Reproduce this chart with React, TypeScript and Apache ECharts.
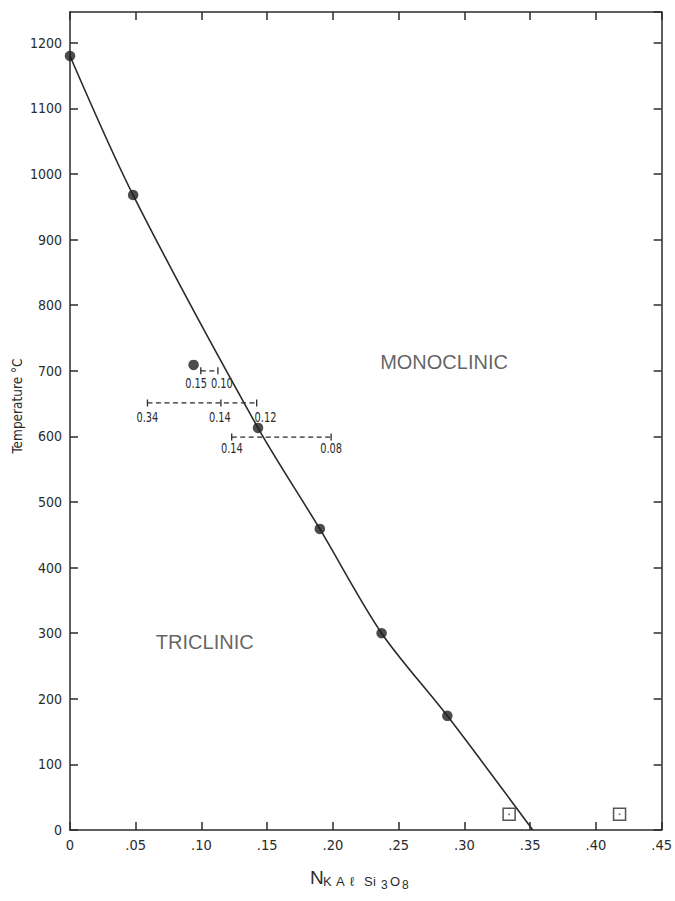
import React, { useEffect, useRef } from "react";
import * as echarts from "echarts";

// Measured transition temperatures (mole fraction KAlSi3O8, °C)
const measuredPoints: [number, number][] = [
  [0.0, 1180],
  [0.048, 968],
  [0.094, 709],
  [0.143, 613],
  [0.19, 459],
  [0.237, 300],
  [0.287, 174],
];

// Hand-drawn boundary curve between the two fields
const boundaryCurve: [number, number][] = [
  [0.0, 1180],
  [0.048, 968],
  [0.143, 613],
  [0.19, 459],
  [0.237, 300],
  [0.287, 174],
  [0.352, 0],
];

// Open-square observations at room temperature
const squarePoints: [number, number][] = [
  [0.334, 24],
  [0.418, 24],
];

// Composition ranges: [left x, temperature, right x, middle x or null]
const rangeBars: (number | null)[][] = [
  [0.0995, 700, 0.1125, null],
  [0.0589, 651, 0.142, 0.1148],
  [0.123, 599, 0.1986, null],
];

// Values written under the range bars
const rangeLabelX = [0.0959, 0.1155, 0.0589, 0.114, 0.1487, 0.1231, 0.1986];
const rangeLabelY = [682, 682, 630, 630, 630, 583, 583];
const rangeLabelText = ["0.15", "0.10", "0.34", "0.14", "0.12", "0.14", "0.08"];

// Phase field names
const fieldNames = ["MONOCLINIC", "TRICLINIC"];
const fieldX = [0.2845, 0.1025];
const fieldY = [713, 287];

const xTicks = { min: 0, max: 0.45, step: 0.05 };
const yTicks = { min: 0, max: 1247, step: 100 };

const INK = "#2b2b2b";
const NARROW = "'Liberation Sans Narrow', 'DejaVu Sans Condensed', 'Roboto', sans-serif";
const SANS = "'Liberation Sans', Arial, sans-serif";

// Axis title glyphs: [text, x offset, y offset, font size]
const titleGlyphs: [string, number, number, number][] = [
  ["N", 0, 0, 19],
  ["K", 13, 7, 13],
  ["A", 26, 7, 13],
  ["ℓ", 40, 7, 13],
  ["S", 54, 7, 13],
  ["i", 63, 7, 13],
  ["3", 71, 11, 12],
  ["O", 80, 7, 13],
  ["8", 92, 11, 12],
];

export default function App() {
  const ref = useRef<HTMLDivElement>(null);

  useEffect(() => {
    if (!ref.current) return;
    const chart = echarts.init(ref.current, undefined, { renderer: "svg" });

    const axisLine = { show: true, onZero: false, lineStyle: { color: INK, width: 1.5 } };
    const tick = { show: true, inside: true, length: 8, lineStyle: { color: INK, width: 1.5 } };

    const cap = (p: number[]) => ({
      type: "line",
      shape: { x1: p[0], y1: p[1] - 3.5, x2: p[0], y2: p[1] + 3.5 },
      style: { stroke: INK, lineWidth: 1.3 },
    });

    chart.setOption({
      animation: false,
      backgroundColor: "#ffffff",
      grid: { left: 70, right: 9, top: 12, bottom: 71 },
      xAxis: [
        {
          type: "value",
          min: xTicks.min,
          max: xTicks.max,
          interval: xTicks.step,
          axisLine,
          axisTick: tick,
          splitLine: { show: false },
          axisLabel: {
            margin: 7,
            color: INK,
            fontSize: 14.5,
            fontFamily: NARROW,
            formatter: (v: number) => (v === 0 ? "0" : v.toFixed(2).replace(/^0/, "")),
          },
        },
        {
          type: "value",
          position: "top",
          min: xTicks.min,
          max: xTicks.max,
          interval: xTicks.step,
          axisLine,
          axisTick: tick,
          axisLabel: { show: false },
          splitLine: { show: false },
        },
      ],
      yAxis: [
        {
          type: "value",
          min: yTicks.min,
          max: yTicks.max,
          interval: yTicks.step,
          axisLine,
          axisTick: tick,
          splitLine: { show: false },
          axisLabel: {
            margin: 8,
            color: INK,
            fontSize: 14,
            fontFamily: NARROW,
            showMaxLabel: false,
            formatter: (v: number) => (Math.round(v) % 100 === 0 ? String(Math.round(v)) : ""),
          },
        },
        {
          type: "value",
          position: "right",
          min: yTicks.min,
          max: yTicks.max,
          interval: yTicks.step,
          axisLine,
          axisTick: tick,
          axisLabel: { show: false },
          splitLine: { show: false },
        },
      ],
      series: [
        {
          type: "line",
          data: boundaryCurve,
          smooth: 0.3,
          symbol: "none",
          lineStyle: { color: INK, width: 1.6 },
          silent: true,
          z: 2,
        },
        {
          type: "scatter",
          data: measuredPoints,
          symbol: "circle",
          symbolSize: 10.5,
          itemStyle: { color: "#1f1f1f" },
          z: 4,
        },
        {
          type: "scatter",
          data: squarePoints,
          symbol: "rect",
          symbolSize: 12,
          itemStyle: { color: "#ffffff", borderColor: INK, borderWidth: 1.5 },
          z: 4,
        },
        {
          type: "scatter",
          data: squarePoints,
          symbol: "circle",
          symbolSize: 1.8,
          itemStyle: { color: "#555" },
          z: 5,
        },
        {
          type: "custom",
          data: rangeBars,
          encode: { x: [0, 2], y: 1 },
          renderItem: (_params: any, api: any) => {
            const y = api.value(1);
            const p0 = api.coord([api.value(0), y]);
            const p1 = api.coord([api.value(2), y]);
            const children: any[] = [
              {
                type: "line",
                shape: { x1: p0[0], y1: p0[1], x2: p1[0], y2: p1[1] },
                style: { stroke: INK, lineWidth: 1.3, lineDash: [5, 3.5] },
              },
              cap(p0),
              cap(p1),
            ];
            const mid = api.value(3);
            if (typeof mid === "number" && isFinite(mid)) children.push(cap(api.coord([mid, y])));
            return { type: "group", children };
          },
          z: 3,
        },
        {
          // condensed hand-lettered values under the range bars
          type: "custom",
          data: rangeLabelX.map((x, i) => [x, rangeLabelY[i]]),
          renderItem: (params: any, api: any) => {
            const p = api.coord([api.value(0), api.value(1)]);
            return {
              type: "text",
              x: p[0],
              y: p[1],
              scaleX: 0.78,
              style: {
                text: rangeLabelText[params.dataIndex],
                fill: INK,
                font: `14px ${NARROW}`,
                align: "center",
                verticalAlign: "middle",
              },
            };
          },
          silent: true,
          z: 6,
        },
        {
          type: "scatter",
          symbolSize: 0,
          data: fieldNames.map((t, i) => ({ name: t, value: [fieldX[i], fieldY[i]] })),
          label: {
            show: true,
            position: "inside",
            formatter: "{b}",
            color: "#3a3a3a",
            fontSize: 20,
            fontFamily: SANS,
          },
          silent: true,
          z: 6,
        },
      ],
      graphic: [
        {
          type: "text",
          x: 17,
          y: 406,
          rotation: Math.PI / 2,
          style: {
            text: "Temperature °C",
            fill: INK,
            font: `13.5px ${NARROW}`,
            align: "center",
            verticalAlign: "middle",
          },
        },
        {
          type: "group",
          left: 310,
          top: 868,
          children: titleGlyphs.map(([t, x, y, size]) => ({
            type: "text",
            x,
            y,
            style: { text: t, fill: INK, font: `${size}px ${SANS}` },
          })),
        },
      ],
    });

    return () => chart.dispose();
  }, []);

  return (
    <div
      ref={ref}
      style={{ position: "fixed", left: 0, top: 0, width: 675, height: 901, background: "#fff" }}
    />
  );
}
